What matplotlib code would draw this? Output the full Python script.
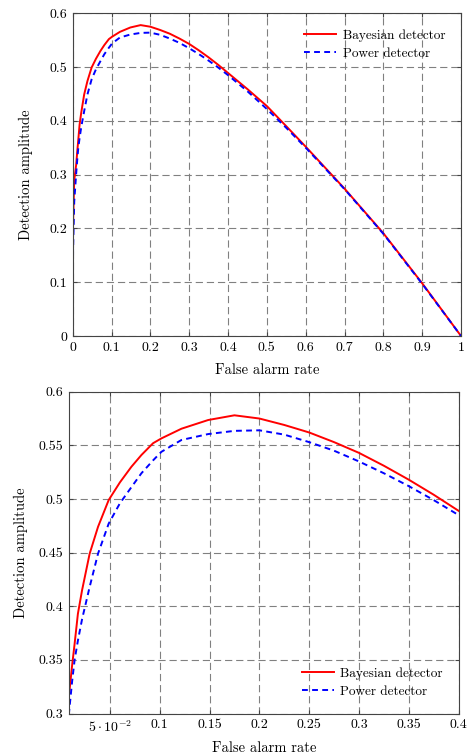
import matplotlib
matplotlib.use("Agg")
import matplotlib.pyplot as plt

plt.rcParams['font.family'] = 'serif'
plt.rcParams['font.serif'] = ['cmr10', 'DejaVu Serif']
plt.rcParams['mathtext.fontset'] = 'cm'
plt.rcParams['axes.formatter.use_mathtext'] = True
plt.rcParams['font.size'] = 10

# false alarm rate samples
fa = [0, 0.001, 0.004, 0.0091, 0.012, 0.0145, 0.0178, 0.022, 0.0296, 0.038,
      0.0487, 0.06, 0.0715, 0.0816, 0.0933, 0.1017, 0.1218, 0.1486, 0.175,
      0.2, 0.225, 0.25, 0.275, 0.3, 0.325, 0.35, 0.375, 0.4, 0.45, 0.5,
      0.55, 0.6, 0.7, 0.8, 0.9, 1.0]
bayes = [0, 0.21, 0.29, 0.319, 0.345, 0.365, 0.393, 0.415, 0.449, 0.474,
         0.499, 0.5155, 0.530, 0.541, 0.552, 0.5565, 0.5655, 0.5736, 0.578,
         0.575, 0.569, 0.562, 0.553, 0.543, 0.531, 0.518, 0.504, 0.489, 0.459, 0.4275,
         0.39, 0.352, 0.274, 0.191, 0.098, 0.0]
power = [0, 0.16, 0.25, 0.303, 0.33, 0.35, 0.368, 0.388, 0.418, 0.449,
         0.477, 0.496, 0.511, 0.524, 0.536, 0.544, 0.555, 0.5605, 0.5635,
         0.564, 0.560, 0.553, 0.545, 0.535, 0.524, 0.512, 0.499, 0.485, 0.455, 0.422,
         0.387, 0.350, 0.273, 0.190, 0.097, 0.0]

top_xticks = [0, 0.1, 0.2, 0.3, 0.4, 0.5, 0.6, 0.7, 0.8, 0.9, 1]
top_xlabels = ['0', '0.1', '0.2', '0.3', '0.4', '0.5', '0.6', '0.7', '0.8', '0.9', '1']
top_yticks = [0, 0.1, 0.2, 0.3, 0.4, 0.5, 0.6]
top_ylabels = ['0', '0.1', '0.2', '0.3', '0.4', '0.5', '0.6']
bot_xticks = [0.05, 0.1, 0.15, 0.2, 0.25, 0.3, 0.35, 0.4]
bot_xlabels = [r'$5\cdot10^{-2}$', '0.1', '0.15', '0.2', '0.25', '0.3', '0.35', '0.4']
bot_yticks = [0.3, 0.35, 0.4, 0.45, 0.5, 0.55, 0.6]
bot_ylabels = ['0.3', '0.35', '0.4', '0.45', '0.5', '0.55', '0.6']

fig = plt.figure(figsize=(4.71, 7.54), dpi=100)
ax1 = fig.add_axes([0.1543, 0.5544, 0.8245, 0.428])
ax2 = fig.add_axes([0.147, 0.0537, 0.8265, 0.4268])


def style(ax, xpad, ypad):
    ax.grid(True, color='#808080', linestyle=(0, (6.5, 3.5)), linewidth=0.8)
    ax.set_axisbelow(True)
    for s in ax.spines.values():
        s.set_color('#444444')
        s.set_linewidth(0.8)
    ax.tick_params(direction='in', top=True, right=True, length=3,
                   color='#444444', labelsize=10, pad=4)
    ax.set_xlabel('False alarm rate', fontsize=10.5, labelpad=xpad)
    ax.set_ylabel('Detection amplitude', fontsize=10.5, labelpad=ypad)


for ax in (ax1, ax2):
    ax.plot(fa, bayes, color='#ff0000', lw=1.4, label='Bayesian detector')
    ax.plot(fa, power, color='#0000ff', lw=1.4, linestyle=(0, (3, 2.2)),
            label='Power detector')

style(ax1, 7, 12)
style(ax2, 4.5, 8)

ax1.set_xlim(0, 1)
ax1.set_ylim(0, 0.6)
ax1.set_xticks(top_xticks, top_xlabels)
ax1.set_yticks(top_yticks, top_ylabels)
ax1.legend(loc='upper right', frameon=False, fontsize=9.5, handlelength=2.4,
           handletextpad=0.5, borderaxespad=0.8, labelspacing=0.45)

ax2.set_xlim(fa[3], 0.4)
ax2.set_ylim(0.3, 0.6)
ax2.set_xticks(bot_xticks, bot_xlabels)
ax2.set_yticks(bot_yticks, bot_ylabels)
ax2.legend(loc='lower right', frameon=False, fontsize=9.5, handlelength=2.4,
           handletextpad=0.5, borderaxespad=0.8, labelspacing=0.45)

fig.savefig('out.png', dpi=100)
